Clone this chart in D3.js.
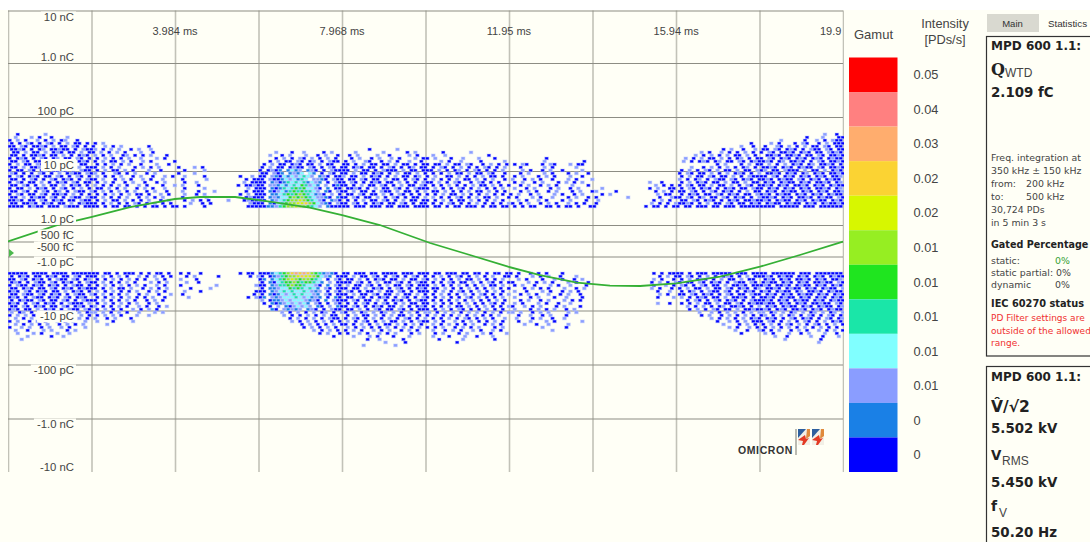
<!DOCTYPE html>
<html>
<head>
<meta charset="utf-8">
<script src="https://cdn.jsdelivr.net/npm/d3@7"></script>
<style>
  html, body { margin: 0; padding: 0; background: #fff; overflow: hidden; }
  text { font-family: "Liberation Sans", Arial, sans-serif; fill: #444; }
  .grid-y line { stroke: #8d8d84; stroke-width: 1.2; }
  .grid-x line { stroke: #c2c2b8; stroke-width: 1.6; }
  .grid-x path, .grid-y path { display: none; }
  .b { font-family: "DejaVu Sans", sans-serif; font-weight: bold; fill: #222; }
  .s { font-family: "DejaVu Sans", sans-serif; font-size: 9.4px; fill: #444; }
</style>
</head>
<body>
<svg></svg>
<script>
// PD pattern: Q(V) phase resolved
var width = 1090
var height = 542
var bg = '#fffff6'

var yTicks = [10000, 1000, 100, 10, 1, 0, -1, -10, -100, -1000, -10000]
var yPixels = [10.5, 63, 117, 171, 225, 241.5, 256.5, 310.5, 364.5, 418.5, 472]
var yLabelValues = [10000, 1000, 100, 10, 1, 0.5, -0.5, -1, -10, -100, -1000, -10000]
var yLabels = ['10 nC', '1.0 nC', '100 pC', '10 pC', '1.0 pC', '500 fC', '-500 fC', '-1.0 pC', '-10 pC', '-100 pC', '-1.0 nC', '-10 nC']

var timeTicks = [0, 1.992, 3.984, 5.976, 7.968, 9.96, 11.952, 13.944, 15.936, 17.928, 19.92]
var timeLabelValues = [3.984, 7.968, 11.95, 15.94, 19.92]
var timeLabels = ['3.984 ms', '7.968 ms', '11.95 ms', '15.94 ms', '19.9']

var gamutColors = ['#ff0000', '#ff8080', '#ffad6e', '#fbd333', '#d7f700', '#96ee22', '#1fe51f', '#1ae6a8', '#80ffff', '#8a9dff', '#1a80e6', '#0000ff']
var gamutLabels = ['0.05', '0.04', '0.03', '0.02', '0.02', '0.01', '0.01', '0.01', '0.01', '0.01', '0', '0']

// voltage trace, ms and kV
var voltTime = [0, 1.17, 1.98, 2.91, 3.98, 4.58, 5.42, 5.96, 7.20, 7.97, 8.87, 10.07, 11.02, 11.93, 12.69, 13.57, 14.36, 15.08, 15.94, 16.99, 17.94, 18.89, 19.92]
var voltValue = [0, 2.88, 4.28, 6.03, 7.43, 7.78, 7.78, 7.26, 5.91, 4.63, 2.88, -0.26, -2.36, -4.41, -5.86, -7.20, -7.73, -7.78, -7.31, -6.15, -4.41, -2.36, -0.03]

// pulse cells per row, split in the ten phase divisions. _ = empty division
// . none, digits = index into the gamut from the bottom up
var topRows = [
"..0......2........... _ _ _ _ _ _ _ _ ................2..0.",
".2...2.0..0...2...... _ _ _ _ _ _ _ _ ...........0...2...00",
"0.2.0..2.0.2.02..0... _ _ _ _ _ _ _ _ .....2.....0..2.0.200",
"0.0.20.0.20.0.2.00.0. 0.2.................. _ _ _ _ _ _ ..................0.. ..2.0...0.20..0.2.000",
"00.20.0020.2.00.20.0. 0..2.0.2......0...... _ _ _ _ _ _ ................2..0. .0..20.2.0.2.00.20.00",
"0020.0.02.00200.0.200 2.0.2.2..0.2..2...... _ _ ......0......2...... _ _ _ ...........0.2..0..2 00.20.020.0.200.20.00",
".00.2.00.2.020.00.2.0 0.2.0.2.0...2..0..... _ ....2...0..2....0.2.. ...2......2.....0.2.. ....0......2......... _ _ ......2.0..2.0.0.2.0 0.20.0020.020.00.2020",
"00.0.0020.00.2.0.020. 2.0.2..02.0.0.2...0.. _ ..2..0.2...2..0.2..0 .0.2....2..0....2.0.. .2..2..........0..... _ _ ....2.0.2.0.2.00.2.0 .0020.0020.00.20.0020",
"0.020.0.20.02.00.20.0 .0.2.0.0.2..2...2.0.. _ ....0.2.0.20.2.0.2.0 ..0.2..0.2..2.0...2.0 0.2...0..2...2...0... .........0........... _ ..2.0.2.00.2.0.02.0.0 0.20.020.020.020.0200",
"00.20.00.2.00.20.020. 0.2.00.2.0..2.0.....0 _ ..0.2.00.20.02.0.200 0.2..20..0.2.0..2..0. ...2.0..2....0.....2. ........2.........0.. _ .2.0.020.02.00.20.020 020.02.0020.0.20.0020",
"0.2.00.20.020.0.2.00. .0.0.2.0.2..0...2..0. _ .0.2.00.020.00.2.00. 00.0.2.00.00.2.00.0.0 0.00.2.00.20..0.2.0.0 .0.20...0.20...2.00.. _ ..........0.2...0.2.0 0.2.0.2.020.02.0020.0",
"00.2.0020.0.20.0.2.00 0.2.0.2...0.2.0.2.... 0...2.0.............. 0.2.00.0200.20.0.20.0 0.020.00.0.20.0.02.00 .0.20.0.2.0.0.20.0.2. ..0.....2.0.....2.... _ ...2..0.2.0.2.0.02.0. 0020.020.0200.20.0020",
"0.00.20.02.0020.0.200 .0.2.00.2.0...2..0... ..0....2............. 0.0201.1312.120.0.200 00.2.00.0.2000.2.00.0 00.2.0.02.0.20.0.0.2. ...2.0..0.2..0....2.. _ .0.2.0.20.2.00.2.00.2 02.00.2000.2.00.2.020",
"20.0.0.20.0.2.0200.20 2.0..20.0.2..0.2..... 0...2................ 00.201.1213.31.0.20.0 0.2.00.020.0.2.00.2.0 .0.0.2.00.2.00.20..0. ..0.2...2.0...0.2..0. _ 0.20.00.2.0.2.020.0.2 .0020.020.02.020.0020",
"0.20.020.00.20.0.20.0 .2.0.0.2..0.2..0..2.0 ..2....0........0..2. 00.21031323432.120.00 2.00.2.020.0.2.00.02. 0.2..00.2.0.0.2.00.0. .0.2...0.2.0...2..0.. _ .0.2.00.20.00.2.0.200 00.20.020.020.020.002",
"00.0.20.0.20.020.0.20 0.2..0.2.0..2.0..2... .0.....2.........0.00 0.2001323143.2210.200 .00.20.00.2.00.0.20.0 .2.0.0.2.00.2.0.2..0. 2..0.2.0..0...2.0...2 _ 2.0.02.0.200.20.020.0 020.0200.20.020.0200.",
"0.20.00.2.0.020.20.00 .0.2.0..0.2..0..0.2.. ..0..2...........2.00 00.1201434341321.0.20 0.20.0.020.00.2.0.0.2 00.2.0.20..0.20.0.0.. .0.2..0.2...0.2.0.2.. ..............2..0... .0.2.020.00.2.00.2.00 .020.0200.020.0020.02",
"00.20.0.2.00.2.020.0. 2.0.0.2.0..2.0...0..2 .2...0.........0.0020 0.2213134354231.2.010 0.0.2.00.20.0.2.00.20 .0.0.2.0.0.2.00.2.0.0 ..0.2..0.2.0...2...0. ...............2.0.0. 0.20.00.2.00.2.0.20.0 020.020.0020.020.0200",
"0.00.2.020.0.20.0.2.0 .00.2.0.2..0.2.0..2.. ..0....2..........2.0 00.1014345453320.1.00 .0020.0.2.00.20.0.200 0.2.0.0.20.0.2.0.0.2. .2..0.2...0.2..0.2... ..2...........0.2..00 .0.20.020.0.020.00.20 0.020.020.020.0020.02",
"00.20.0.20.02.0.200.2 0.2.0.2.0.2..0.2..0.. .2...0...2.......0.00 0.1023145454432.10.20 0.2.00.0.200.2.00.0.2 .00.2.0.0.2.00.2.0.0. ..0.2.0..0.2...0.2..0 2....0.........0.2.0. 00.20.0.20.020.0.2.00 .020.0200.020.020.002",
"0.20.00.20.0020.2.0.0 .0.0.2.0.2.00.0..2.0. ..2..0.2........0.2.0 00.11345456543120.2.0 .00.20.00.2.0.20.0.0. 0.0.2.00.2.0.0.2.0.0. 0.2..0.2...2.0..0.2.. ..0.2...........2.00. .0.020.00.20.020.00.2 020.0200.020.020.0200",
"00.2.0200.20.0.200.20 0.2.0.0.2..0.2.0.2... .0.....2.........0200 0.1213356565432210.10 0.20.00.2.0.20.0.00.2 .2.0.0.20.0.2.00.2..0 .0...2.0..2...0.2..0. 0.......2.......0..20 0.20.02.00.20.020.0.2 0020.020.0020.0200.20",
"0020.00.20.020.00.200 .0.2.00.2.0.0.2..0.2. ..0.2.0.0....2...0200 00.12345667654320.120 .0.0.2.00.20.0.2.00.0 0.0.2.0.00.2.0.0.2.0. ..2.0..2.0...0.2...0. .2.............0.2.0. .00.20.020.0.020.0020 020.0200.020.0200.020",
"00.0020.020.00.2.0200 0.0.2.0.0.20.0.2.0.0. ...2..0.0.........200 0.1034566778653210.20 0.20.0.020.00.20.0.00 .0.0.20.0.0.2.0.0.0.2 0.0.2..0.2.0..2.0.0.. 0.............2.0.0.2 0020.0.2.00.20.00.020 .0200.0200.020.020020",
"0000.0200.000.2000.00 00.0.00.00.0.0.00.0.0 0.0....0..........000 0011245667765432.1000 00.000.000.00.000.000 0.00.0.00.000.0.00.00 .0.0.00..00.0.00.0..0 0............0.00.0.0 0.00.000.00.000.00000 0000.00000.000.000000"
]

var bottomRows = [
"00000.0000.0000.00000 00.00.0.000.0.0.00.0. .0.0..0.........0.00. 00013456898986541210. 00.000.00.0000.000.00 0.00.000.00.00.0.00.0 0.0..0.0.0...0...... ...............0.0.00 00.0.000.00000.000.00 00.000000.000.0000000",
"0.020.00.020.00.20.00 0.2.0.2.0..2.0.2.0.0. ..0.2.....0.......0.2 0.0124566787765321.00 0.2.00.20.0.20.0.20.0 .0.2.0.20.0.2.0.2..00 .0...2.0.2..0...2.... ................0.2.0 0.20.0.2.0.020.0.2.00 020.0200.020.020.0200",
"00.20.020.0.200.20.02 .0.0.2.0.2.0.0..2.0.. .2...0...............0 01.1345676566543.0.20 .00.2.0.020.00.2.00.2 0.2.0.0.2.00.2.0.0.2. ..2.0...0..2.0..0.2.. ...............2.0..0 .0.2.020.0.2.00.2.00. .020.020.0020.020.002",
"020.0.200.20.020.0.20 0.2.0.0.2.0...2.0.2.. ..2..0...............0 0.10345565455431.2.00 00.20.0.2.00.20.0.200 .0.0.20.00.2.0.20.0.0 0...2.0.2.0...2.0..0. ..............0.2.0.2 0.00.20.020.0.200.20. 0200.020.020.00200.20",
"0.200.020.020.0.200.0 .0.2.0.2.0.2.0..2.0.. .0........2.........2 00.1244565543320.1.20 .2.00.20.0.2.00.20.00 0.2.0.0.2.0.0.2.00.2. .0.2..0...2.0..2...0. ...............0..2.0 .20.0.20.00.2.0020.00 020.0020.0200.020.020",
"00.020.00.20.020.0200 0.0.2.00.2..0.2.0.2.. ...0....2............ 0.1123354543431.20.00 0.00.2.020.0.20.0.020 .00.2.0.0.2.0.0.2.0.0 ...0.2.0.0...2..0.2.. ..............2.0..0. 0.2.00.2.00.20.020.02 .0020.0200.020.0200.2",
"020.20.020.00.2.020.0 .2.0.2.0.0.2..0.2.0.. ..2...0.............0 00.1234343343212.0.20 .20.0.00.2.00.20.0.00 0.0.2.0.20.0.2.0.2.0. .2..0...2.0..0.2.0... ................0..2. .0.02.0.200.20.0.020. 020.0200.02.0020.0200",
"00.200.20.020.0.200.2 0.2.0.0.2..0.2..0..2. .0.................0. 0.1013234343321.20.00 0.2.00.20.00.2.00.2.0 .0.2.0.0.2.0.20.0.0.2 ..0.2.0..2..0.2..0... ................2.0.. 00.20.020.0.20.00.200 .020.020.0200.020.020",
"020.0.200.020.20.020. .0.0.2.0.2.0.0.2..0.. ...2..............0.2 01.2123334323121.0.10 .00.20.0.020.0.20.0.2 0.0.2.0.0.20.2.0.0.2. .2...0.2...0..2...0.. ................0...2 .2.0.020.00.2.0020.0. 0020.0200.020.020.020",
"0.0200.20.00.20.0.200 0.2.0.0.2.0..0.2.0... _ 2.0112323332120.1.200 0.20.00.2.0.020.0.200 .0.0.0.2.0.2.0.0.2.0. ..0.2..0.2...2.0.0.. _ ..0.20.0.20.020.0.200 020.020.0200.020.0200",
"020.0.20.020.0.2000.2 .0.2.0.2.0.2..0.2.... _ .0.1012323231.20.0.20 .0.0.20.0.20.0.2.00.0 0.2.0.0.0.2.0.0.20.0. .2.0...2.0..0..2..... ................2..0. .0.0.2.00.2.00.20.020 0200.020.020.00200.20",
"00.20.020.00.20.020.0 2.0.0.2.0..2.0..0.2.. _ ..0.2.1023232.10.2.10 0.20.0.020.00.2.0.020 .0.0.2.00.2.0.2.0.0.2 0..2.0.2...0.2...0... _ ..2.0.2.0.02.0020.0.2 .020.0200.020.0200.02",
"020.00.2.020.0.200.20 .0.2.0.0..2.0.2.0.... _ ...10.21212.120.0.200 .00.2.0.20.00.20.0.00 0.0.2.0.20.0.0.2.0.0. .2...0.2.0.2..0.2.... _ ...0.2.0.20.00.2.0020 020.020.0020.020.0200",
"2.02.0.20.2.02.0.2.02 2.2.0.2.0..2...2.2... _ .....2.0.2.0.2.02.0.2 0.2.02.2.02.2.0.2.0.2 2.0.2.2.0.2.2.0.2.0.2 2.2..0.2.2....2.2.... _ .....2..2.0.2.2.0.2.2 2.02.2.02.2.02.2.02.2",
"0.2.2.0.2..2.0.2..2.0 .0.2.2.0...2..2...... _ ......2.0.0.2.0.2.00. .0.2.00.2.0.2.00.2.0. 0.2.0.0.2.0.2.0.0.2.. ..0..2..0.2...0...... _ ......0.2..0.2.0.2.0. 02.0.2.02.0.20.0.20.0",
".2.0.2..2.0.2..0.2.0. 2..0.2...0........... _ .......0.2.0.2.0.200. 0.20.0.2.0.2.0.20.0.2 .0.0.2.0.20.0.2.0..2. .2...0.2..0..2....... _ ........2.0.2.0.2.020 .020.0.20.020.0.20.02",
"0.2..0.2.0..2.0.2..2. .2...0....2.......... _ ........2.0.2.0.2.0.0 .2.0.20.0.2.00.2.0.20 0.2.0..2.0.2.0.0.2.0. ..0..2...2.0......2.. _ ..........0..2.0.2.00 0.20.0.2.0.20.0.2.020",
".2.0.2.0.2..0.2.0.2.. ...2................. _ ..........0.2.0.0.2.0 0.0.2.0.2.00.2.0.2.0. .2.0.2.0.0.2..0.2.0.. ...2..0..2....2...... _ ...........2...0.2.0. 0.2.0.20.2.0.20.0.2.0",
"0..2.2..0.2..2.0...2. _ _ ...........0.2.0.2.0. .2.0.2.0.0.2.0.2.0.2. 0.0.2..0.2.0.2...0.2. ........2.....0...... _ .............2.0..2.0 .0.2.0.2.0.2.0.2.0.0.",
".2..0...2.2...0.2.... _ _ .............2.0.2.0. 0.2.0..2.0.2..0.2.0.. .2..0.2.0..2.0..2.0.. ..........2.......... _ ..............2..0..2 0.0.2..0.2.0..2.0.2.0",
"..2...2.0...2..2..... _ _ ...............0.2..0 .0..2.0..2.0.2...0.2. ..0.2...0.2...2.0...2 _ _ ................0.... .2.0...2..0.2...2..0.",
"....2.....0..2....... _ _ ..................0.. ..2...2.0...0...2.... .2...0...2..0...2.... _ _ _ ...2..0.....2..0...2.",
"...2................. _ _ _ ......0..2.....0..... ...0.....2.......0... _ _ _ ......2........0.....",
"_ _ _ _ ..........2....0..... .......0............. _ _ _ ..............2......",
"_ _ _ _ .....2.......2....... _ _ _ _ _"
]

var x = d3.scaleLinear().domain([0, 19.92]).range([8, 843])
var y = d3.scaleLinear().domain(yTicks).range(yPixels)
var volt = d3.scaleLinear().domain([-7.78, 7.78]).range([286, 197])

var sectionCols = 21
var col = d3.scaleBand().domain(d3.range(sectionCols * 10)).range(x.range())
var topRow = d3.scaleBand().domain(d3.range(topRows.length)).range([133, 208])
var bottomRow = d3.scaleBand().domain(d3.range(bottomRows.length)).range([272, 347])
var levelColor = d3.scaleOrdinal().domain(d3.range(12)).range(gamutColors.slice().reverse())

function parseRows(rows) {
  var cells = []
  rows.forEach(function(row, r) {
    row.split(' ').forEach(function(part, k) {
      if (part === '_') return
      part.split('').forEach(function(c, j) {
        if (c !== '.') cells.push({ col: k * sectionCols + j, row: r, level: +c })
      })
    })
  })
  return cells
}

var svg = d3.select('svg')
  .attr('width', width)
  .attr('height', height)
  .style('display', 'block')

svg.append('rect').attr('width', width).attr('height', height).attr('fill', '#fff')
svg.append('rect').attr('y', 10).attr('width', width).attr('height', height - 10).attr('fill', bg)

svg.append('clipPath').attr('id', 'plot-clip')
  .append('rect').attr('x', 8).attr('y', 9).attr('width', 836).attr('height', 464)

var plot = svg.append('g').attr('clip-path', 'url(#plot-clip)')

// grid, no line at the bottom edge
plot.append('g')
  .attr('class', 'grid-x')
  .attr('transform', 'translate(0,' + yPixels[0] + ')')
  .call(d3.axisBottom(x).tickValues(timeTicks).tickSize(yPixels[10] - yPixels[0]).tickFormat(''))

plot.append('g')
  .attr('class', 'grid-y')
  .attr('transform', 'translate(8,0)')
  .call(d3.axisRight(y).tickValues(yTicks.slice(0, -1)).tickSize(835).tickFormat(''))

// pulse cells, odd rows shifted half a cell so the grid does not show
function drawCells(cells, rowScale) {
  plot.append('g').selectAll('rect')
    .data(cells)
    .enter()
    .append('rect')
      .attr('x', d => col(d.col) + (d.row % 2) * col.step() / 2)
      .attr('y', d => rowScale(d.row))
      .attr('width', 3.6)
      .attr('height', 2.8)
      .attr('fill', d => levelColor(d.level))
      .attr('stroke', '#bcc8ff')
      .attr('stroke-opacity', 0.5)
      .attr('stroke-width', 1)
}
drawCells(parseRows(topRows), topRow)
drawCells(parseRows(bottomRows), bottomRow)

// voltage trace
var line = d3.line()
  .x((d, i) => x(voltTime[i]))
  .y(d => volt(d))

plot.append('path')
  .datum(voltValue)
  .attr('d', line)
  .attr('fill', 'none')
  .attr('stroke', '#35b035')
  .attr('stroke-width', 1.8)

plot.append('path')
  .attr('d', 'M9,249L14,253L9,257Z')
  .attr('fill', '#4cb84c')

// y labels, box behind them covers the pulses and the grid
function yLabelPos(v, i) {
  if (i === 0) return y(v) + 7
  if (i === yLabels.length - 1) return y(v) - 5
  if (Math.abs(v) < 1) return y(0) + (v > 0 ? -6 : 6)
  return y(v) + (v > 0 ? -6 : 6)
}
var yLabelG = plot.append('g')
yLabels.forEach(function(t, i) {
  var el = yLabelG.append('text')
    .attr('x', 74)
    .attr('y', yLabelPos(yLabelValues[i], i))
    .attr('dy', '0.35em')
    .attr('text-anchor', 'end')
    .attr('font-size', 11.3)
    .text(t)
  var b = el.node().getBBox()
  yLabelG.insert('rect', 'text')
    .attr('x', b.x - 3).attr('y', b.y)
    .attr('width', b.width + 5).attr('height', b.height)
    .attr('fill', bg)
})

plot.selectAll('.time')
  .data(timeLabelValues)
  .enter()
  .append('text')
    .attr('class', 'time')
    .attr('x', (d, i) => x(d) - (i === 4 ? 23 : 0))
    .attr('y', 31)
    .attr('dy', '0.35em')
    .attr('text-anchor', (d, i) => i === 4 ? 'start' : 'middle')
    .attr('font-size', 11)
    .text((d, i) => timeLabels[i])

// logo
var logo = svg.append('g')
logo.append('text')
  .attr('x', 738).attr('y', 454)
  .attr('font-size', 10.5).attr('font-weight', 'bold')
  .attr('letter-spacing', 0.6)
  .style('fill', '#333')
  .text('OMICRON')
logo.append('line').attr('x1', 796).attr('x2', 796).attr('y1', 429).attr('y2', 455).attr('stroke', '#8d8d84').attr('stroke-width', 1.2)
;[798, 812].forEach(function(lx) {
  logo.append('path').attr('d', 'M' + lx + ',429h12v16h-12Z').attr('fill', '#f3f0e6')
  logo.append('path').attr('d', 'M' + lx + ',429h8l-8,9Z').attr('fill', '#2e5f9e')
  logo.append('path').attr('d', 'M' + (lx + 9) + ',429h3v7l-4,3Z').attr('fill', '#e08a3c')
  logo.append('path').attr('d', 'M' + lx + ',440l7,-5l1,4l3,-1l-5,7h-2l1,-4Z').attr('fill', '#e33a24')
})

// gamut legend
var gamutY = d3.scaleBand().domain(d3.range(gamutColors.length)).range([57.5, 472])

svg.selectAll('.gamut')
  .data(gamutColors)
  .enter()
  .append('rect')
    .attr('class', 'gamut')
    .attr('x', 849)
    .attr('y', (d, i) => gamutY(i))
    .attr('width', 48.5)
    .attr('height', gamutY.bandwidth())
    .attr('fill', d => d)

svg.selectAll('.gamut-label')
  .data(gamutLabels)
  .enter()
  .append('text')
    .attr('class', 'gamut-label')
    .attr('x', 913.5)
    .attr('y', (d, i) => gamutY(i) + gamutY.bandwidth() / 2)
    .attr('dy', '0.35em')
    .attr('font-size', 12.8)
    .text(d => d)

function label(px, py, t, size, anchor, color) {
  return svg.append('text')
    .attr('x', px).attr('y', py)
    .attr('font-size', size)
    .attr('text-anchor', anchor || 'start')
    .style('fill', color || '#444')
    .text(t)
}
label(873.5, 39, 'Gamut', 13, 'middle')
label(945, 28, 'Intensity', 12.8, 'middle')
label(945, 44, '[PDs/s]', 12.8, 'middle')

// right panels
svg.append('rect').attr('x', 987).attr('y', 14).attr('width', 52).attr('height', 18).attr('fill', '#d9d9d0')
label(1012.5, 27, 'Main', 9.5, 'middle', '#333')
label(1067.5, 27, 'Statistics', 9.8, 'middle', '#333')

svg.append('rect').attr('x', 986.5).attr('y', 36.5).attr('width', 110).attr('height', 319.5)
  .attr('fill', 'none').attr('stroke', '#333').attr('stroke-width', 1.2)
svg.append('rect').attr('x', 986.5).attr('y', 366.5).attr('width', 110).attr('height', 190)
  .attr('fill', 'none').attr('stroke', '#333').attr('stroke-width', 1.2)

function bold(px, py, t, size) {
  return label(px, py, t, size).attr('class', 'b').style('fill', '#222')
}
function small(px, py, t, color) {
  return label(px, py, t, 9.4, 'start', color).attr('class', 's')
}

bold(991, 50, 'MPD 600 1.1:', 12)
label(991, 75, 'Q', 16, 'start', '#222').style('font-family', '"DejaVu Serif", serif').style('font-weight', 'bold')
label(1005, 77, 'WTD', 12)
bold(991, 97, '2.109 fC', 13.4)

small(991, 161, 'Freq. integration at')
small(991, 174, '350 kHz ± 150 kHz')
small(991, 187, 'from:')
small(1026, 187, '200 kHz')
small(991, 200, 'to:')
small(1026, 200, '500 kHz')
small(991, 213, '30,724 PDs')
small(991, 226, 'in  5 min 3 s')

bold(991, 248, 'Gated Percentage', 9.6)
small(991, 264, 'static:')
small(1055, 264, '0%', '#35a035')
small(991, 276, 'static partial: 0%')
small(991, 288, 'dynamic')
small(1055, 288, '0%')
bold(991, 307, 'IEC 60270 status', 9.8)
small(991, 321, 'PD Filter settings are', '#f03030').style('font-size', '9px')
small(991, 334, 'outside of the allowed', '#f03030').style('font-size', '9px')
small(991, 346, 'range.', '#f03030').style('font-size', '9px')

bold(991, 381, 'MPD 600 1.1:', 12)
bold(991, 412, 'V\u0302/\u221A2', 15.5)
bold(991, 433, '5.502 kV', 13.4)
bold(991, 460, 'V', 13.4)
label(1002, 465, 'RMS', 12)
bold(991, 487, '5.450 kV', 13.4)
bold(991, 511, 'f', 14)
label(999, 517, 'V', 12)
bold(991, 537, '50.20 Hz', 13.4)
</script>
</body>
</html>
